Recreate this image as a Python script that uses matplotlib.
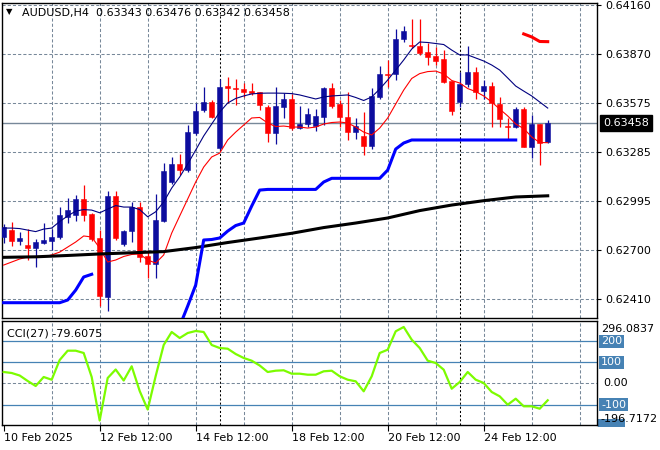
import numpy as np
import matplotlib
matplotlib.use("Agg")
import matplotlib.pyplot as plt
from matplotlib.patches import Rectangle
from matplotlib.transforms import IdentityTransform

nan = np.nan

# AUDUSD H4 candles (69 bars)
opens = [0.62780, 0.62821, 0.62758, 0.62732, 0.62716, 0.62746, 0.62758, 0.62778, 0.62900, 0.62909,
         0.63006, 0.62916, 0.62774, 0.62424, 0.63024, 0.62736, 0.62815, 0.62960, 0.62667, 0.62619,
         0.62877, 0.63109, 0.63214, 0.63178, 0.63400, 0.63535, 0.63583, 0.63307, 0.63678, 0.63664,
         0.63658, 0.63648, 0.63641, 0.63555, 0.63400, 0.63555, 0.63599, 0.63426, 0.63450, 0.63440,
         0.63495, 0.63664, 0.63571, 0.63494, 0.63406, 0.63378, 0.63321, 0.63614, 0.63750, 0.63748,
         0.63957, 0.63925, 0.63916, 0.63879, 0.63854, 0.63837, 0.63708, 0.63585, 0.63689, 0.63761,
         0.63650, 0.63678, 0.63571, 0.63440, 0.63432, 0.63539, 0.63313, 0.63452, 0.63343]
highs = [0.62857, 0.62869, 0.62809, 0.62827, 0.62768, 0.62863, 0.62829, 0.62960, 0.63012, 0.63030,
         0.63089, 0.62922, 0.62821, 0.63055, 0.63053, 0.62821, 0.62990, 0.62990, 0.62702, 0.63036,
         0.63222, 0.63257, 0.63274, 0.63446, 0.63579, 0.63674, 0.63595, 0.63718, 0.63730, 0.63718,
         0.63694, 0.63694, 0.63644, 0.63565, 0.63672, 0.63639, 0.63631, 0.63559, 0.63545, 0.63544,
         0.63672, 0.63694, 0.63595, 0.63642, 0.63486, 0.63523, 0.63666, 0.63795, 0.63833, 0.64018,
         0.64035, 0.64076, 0.64079, 0.63932, 0.63912, 0.63892, 0.63710, 0.63763, 0.63916, 0.63793,
         0.63714, 0.63704, 0.63613, 0.63486, 0.63555, 0.63555, 0.63506, 0.63452, 0.63476]
lows = [0.62744, 0.62726, 0.62734, 0.62643, 0.62601, 0.62738, 0.62702, 0.62770, 0.62863, 0.62875,
        0.62875, 0.62758, 0.62371, 0.62341, 0.62762, 0.62726, 0.62752, 0.62633, 0.62536, 0.62536,
        0.62869, 0.63095, 0.63149, 0.63168, 0.63387, 0.63525, 0.63488, 0.63297, 0.63575, 0.63565,
        0.63614, 0.63625, 0.63535, 0.63345, 0.63336, 0.63488, 0.63416, 0.63420, 0.63436, 0.63413,
        0.63446, 0.63545, 0.63436, 0.63357, 0.63361, 0.63268, 0.63303, 0.63599, 0.63674, 0.63714,
        0.63940, 0.63904, 0.63860, 0.63803, 0.63803, 0.63694, 0.63506, 0.63555, 0.63675, 0.63599,
        0.63599, 0.63432, 0.63434, 0.63357, 0.63428, 0.63315, 0.63248, 0.63208, 0.63342]
closes = [0.62839, 0.62756, 0.62774, 0.62716, 0.62750, 0.62764, 0.62780, 0.62911, 0.62940, 0.63006,
          0.62912, 0.62770, 0.62430, 0.63024, 0.62774, 0.62815, 0.62958, 0.62662, 0.62619, 0.62881,
          0.63174, 0.63214, 0.63178, 0.63406, 0.63529, 0.63585, 0.63492, 0.63674, 0.63668, 0.63658,
          0.63644, 0.63636, 0.63565, 0.63397, 0.63559, 0.63599, 0.63426, 0.63450, 0.63512, 0.63500,
          0.63664, 0.63561, 0.63495, 0.63407, 0.63440, 0.63321, 0.63619, 0.63750, 0.63744, 0.63957,
          0.64005, 0.63916, 0.63876, 0.63852, 0.63828, 0.63704, 0.63531, 0.63689, 0.63761, 0.63644,
          0.63678, 0.63575, 0.63480, 0.63434, 0.63539, 0.63317, 0.63452, 0.63337, 0.63458]

# thin moving averages
ma_navy = [0.62833, 0.62833, 0.62830, 0.62821, 0.62812, 0.62827, 0.62833, 0.62872, 0.62905, 0.62934,
           0.62943, 0.62940, 0.62924, 0.62946, 0.62967, 0.62958, 0.62958, 0.62943, 0.62900, 0.62930,
           0.62988, 0.63071, 0.63137, 0.63214, 0.63297, 0.63381, 0.63452, 0.63523, 0.63577, 0.63604,
           0.63619, 0.63631, 0.63635, 0.63636, 0.63636, 0.63635, 0.63633, 0.63625, 0.63613, 0.63601,
           0.63613, 0.63619, 0.63622, 0.63625, 0.63610, 0.63592, 0.63613, 0.63660, 0.63714, 0.63773,
           0.63833, 0.63898, 0.63940, 0.63937, 0.63931, 0.63925, 0.63892, 0.63863, 0.63863, 0.63845,
           0.63827, 0.63803, 0.63773, 0.63726, 0.63678, 0.63648, 0.63619, 0.63583, 0.63547]
ma_red = [0.62613, 0.62631, 0.62649, 0.62661, 0.62658, 0.62661, 0.62673, 0.62690, 0.62720, 0.62750,
          0.62786, 0.62780, 0.62714, 0.62631, 0.62643, 0.62664, 0.62676, 0.62679, 0.62643, 0.62625,
          0.62673, 0.62803, 0.62905, 0.63006, 0.63107, 0.63196, 0.63256, 0.63279, 0.63357, 0.63404,
          0.63446, 0.63488, 0.63491, 0.63458, 0.63437, 0.63440, 0.63434, 0.63434, 0.63428, 0.63434,
          0.63452, 0.63461, 0.63464, 0.63458, 0.63434, 0.63404, 0.63387, 0.63428, 0.63488, 0.63571,
          0.63654, 0.63723, 0.63752, 0.63764, 0.63767, 0.63750, 0.63711, 0.63696, 0.63663, 0.63645,
          0.63619, 0.63583, 0.63541, 0.63500, 0.63452, 0.63425, 0.63375, 0.63342, 0.63341]

# long moving average, read every 4th bar
ma_long_idx = [0, 4, 8, 12, 16, 20, 24, 28, 32, 36, 40, 44, 48, 52, 56, 60, 64, 68]
ma_long = [0.62659, 0.62662, 0.62670, 0.62679, 0.62686, 0.62693, 0.62717, 0.62747, 0.62774,
           0.62802, 0.62836, 0.62863, 0.62893, 0.62937, 0.62970, 0.62996, 0.63018, 0.63025]

# trailing stop lines
support = [0.62389, 0.62389, 0.62389, 0.62389, 0.62389, 0.62389, 0.62389, 0.62389, 0.62405, 0.62464,
           0.62542, 0.62558, nan, nan, nan, nan, nan, nan, nan, nan,
           nan, nan, 0.62250, 0.62369, 0.62494, 0.62762, 0.62765, 0.62774, 0.62815, 0.62848,
           0.62863, 0.62964, 0.63059, 0.63063, 0.63063, 0.63063, 0.63063, 0.63063, 0.63063, 0.63063,
           0.63107, 0.63129, 0.63129, 0.63129, 0.63129, 0.63129, 0.63129, 0.63129, 0.63178, 0.63303,
           0.63339, 0.63357, 0.63357, 0.63357, 0.63357, 0.63357, 0.63357, 0.63357, 0.63357, 0.63357,
           0.63357, 0.63357, 0.63357, 0.63357, 0.63357, nan, nan, nan, nan]
resist_idx = [65, 66, 67, 68]
resist = [0.63988, 0.63970, 0.63943, 0.63942]

# CCI(27)
cci = [54.4, 49.7, 37.8, 11.8, -11.9, 30.7, 17.9, 111.3, 155.4, 155.4,
       144.5, 30.7, -175.4, 26.0, 66.3, 14.1, 81.4, -35.6, -123.3, 35.5,
       182.4, 244.0, 215.5, 239.2, 248.7, 244.0, 182.4, 168.1, 164.8, 139.7,
       120.8, 108.0, 85.2, 54.4, 60.6, 62.5, 46.4, 46.4, 41.6, 41.6,
       57.7, 60.6, 34.0, 17.9, 10.3, -37.1, 34.0, 144.5, 160.1, 247.3,
       267.7, 207.5, 168.1, 108.0, 97.1, 65.3, -24.7, 7.0, 54.4, 17.9,
       2.3, -40.4, -60.8, -100.6, -72.1, -108.1, -108.1, -119.5, -79.6075]
cci_max, cci_min = 296.0837, -196.7172
cci_levels = [200, 100, -100]

price_ticks = [0.64160, 0.63870, 0.63575, 0.63285, 0.62995, 0.62700, 0.62410]
time_idx = [0, 12, 24, 36, 48, 60]
time_labels = ["10 Feb 2025", "12 Feb 12:00", "14 Feb 12:00", "18 Feb 12:00",
               "20 Feb 12:00", "24 Feb 12:00"]
week_sep = [27, 57]

bull, bear = "#0d0d9e", "#ff0000"
grid_c = "#778899"
level_c = "#4682b4"
dash = (0, (3, 2))

o, h, l, c = map(np.array, (opens, highs, lows, closes))
idx = np.arange(len(c))

W, H = 660, 450
fig = plt.figure(figsize=(W / 100, H / 100), dpi=100)
fig.patch.set_facecolor("white")


def place(left, top, right, bottom):
    return [left / W, 1 - bottom / H, (right - left) / W, (bottom - top) / H]


ax = fig.add_axes(place(2, 3, 597, 318))
axc = fig.add_axes(place(2, 321, 597, 425))

for a in (ax, axc):
    a.set_xlim(-0.21, 74.16)
    for g in range(6, 73, 6):
        a.axvline(g, color=grid_c, ls=dash, lw=0.75, zorder=0)
    for s in week_sep:
        a.axvline(s, color="black", ls=(0, (2, 2)), lw=0.75, zorder=0.5)
    for sp in a.spines.values():
        sp.set_color("black")
        sp.set_linewidth(1)

# ---- price panel
ax.set_ylim(0.62298, 0.64172)
for p in price_ticks:
    ax.axhline(p, color=grid_c, ls=dash, lw=0.75, zorder=0)
ax.axhline(c[-1], color=grid_c, lw=1, zorder=0.6)

cols = np.where(c >= o, bull, bear)
ax.vlines(idx, l, h, colors=cols, lw=0.9, zorder=2)
ax.bar(idx, np.abs(c - o), bottom=np.minimum(o, c), width=0.6, color=cols,
       edgecolor=cols, linewidth=0.4, zorder=3)

ax.plot(idx, ma_navy, color="#000080", lw=0.8, zorder=4)
ax.plot(idx, ma_red, color="#ff0000", lw=0.8, zorder=4)
ax.plot(ma_long_idx, ma_long, color="black", lw=2.2, zorder=4)
ax.plot(idx, support, color="#0000ff", lw=2.2, zorder=4)
ax.plot(resist_idx, resist, color="#ff0000", lw=2.2, zorder=4)

ax.set_xticks([])
ax.yaxis.tick_right()
ax.set_yticks(price_ticks)
ax.set_yticklabels([f"{p:.5f}" for p in price_ticks])
ax.tick_params(axis="y", length=3, width=0.8, pad=3, labelsize=8, colors="black")

ax.annotate(f"{c[-1]:.5f}", xy=(1, c[-1]), xycoords=("axes fraction", "data"),
            xytext=(6, 0), textcoords="offset pixels", ha="left", va="center",
            fontsize=8, color="white", annotation_clip=False,
            bbox=dict(boxstyle="square,pad=0.3", fc="black", ec="black"))

ax.annotate("\u25bc", xy=(0, 1), xycoords="axes fraction", xytext=(7.5, -9),
            textcoords="offset pixels", ha="center", va="center", fontsize=6)
ax.annotate(f"AUDUSD,H4  {o[-1]:.5f} {h[-1]:.5f} {l[-1]:.5f} {c[-1]:.5f}",
            xy=(0, 1), xycoords="axes fraction", xytext=(20, -10),
            textcoords="offset pixels", ha="left", va="center", fontsize=8)

# ---- CCI panel
axc.set_ylim(cci_min, cci_max)
axc.axhline(0, color=grid_c, ls=dash, lw=0.75, zorder=0)
for lv in cci_levels:
    axc.axhline(lv, color=level_c, lw=0.9, zorder=1)
axc.plot(idx, cci, color="#7cfc00", lw=1.6, zorder=3)

axc.set_yticks([])
axc.set_xticks(time_idx)
axc.set_xticklabels(time_labels)
for t in axc.get_xticklabels():
    t.set_horizontalalignment("left")
axc.tick_params(axis="x", length=4, width=0.8, pad=2, labelsize=8, colors="black")

axc.annotate(f"CCI(27) {cci[-1]:.4f}", xy=(0, 1), xycoords="axes fraction",
             xytext=(5, -12), textcoords="offset pixels", ha="left", va="center",
             fontsize=8)


def right_label(y, text, boxed, dy=0, dx=4):
    kw = dict(xy=(1, y), xycoords=("axes fraction", "data"), xytext=(dx, dy),
              textcoords="offset pixels", ha="left", va="center", fontsize=8,
              annotation_clip=False)
    if boxed:
        kw.update(color="white",
                  bbox=dict(boxstyle="square,pad=0.15", fc=level_c, ec="none"))
    return axc.annotate(text, **kw)


# edge of the hidden -200 level box, peeking under the min label (drawn below axes)
fig.add_artist(Rectangle((598, H - 427), 27, 8, transform=IdentityTransform(),
                         fc=level_c, ec="none", zorder=-1))
for lv in cci_levels:
    right_label(lv, f"{lv}", True)
right_label(0, "0.00", False, dx=6)
right_label(cci_max, f"{cci_max:.4f}", False, dy=-8)
right_label(cci_min, f"{cci_min:.4f}", False, dy=6, dx=3)

fig.savefig("out.png", dpi=100, facecolor="white")
